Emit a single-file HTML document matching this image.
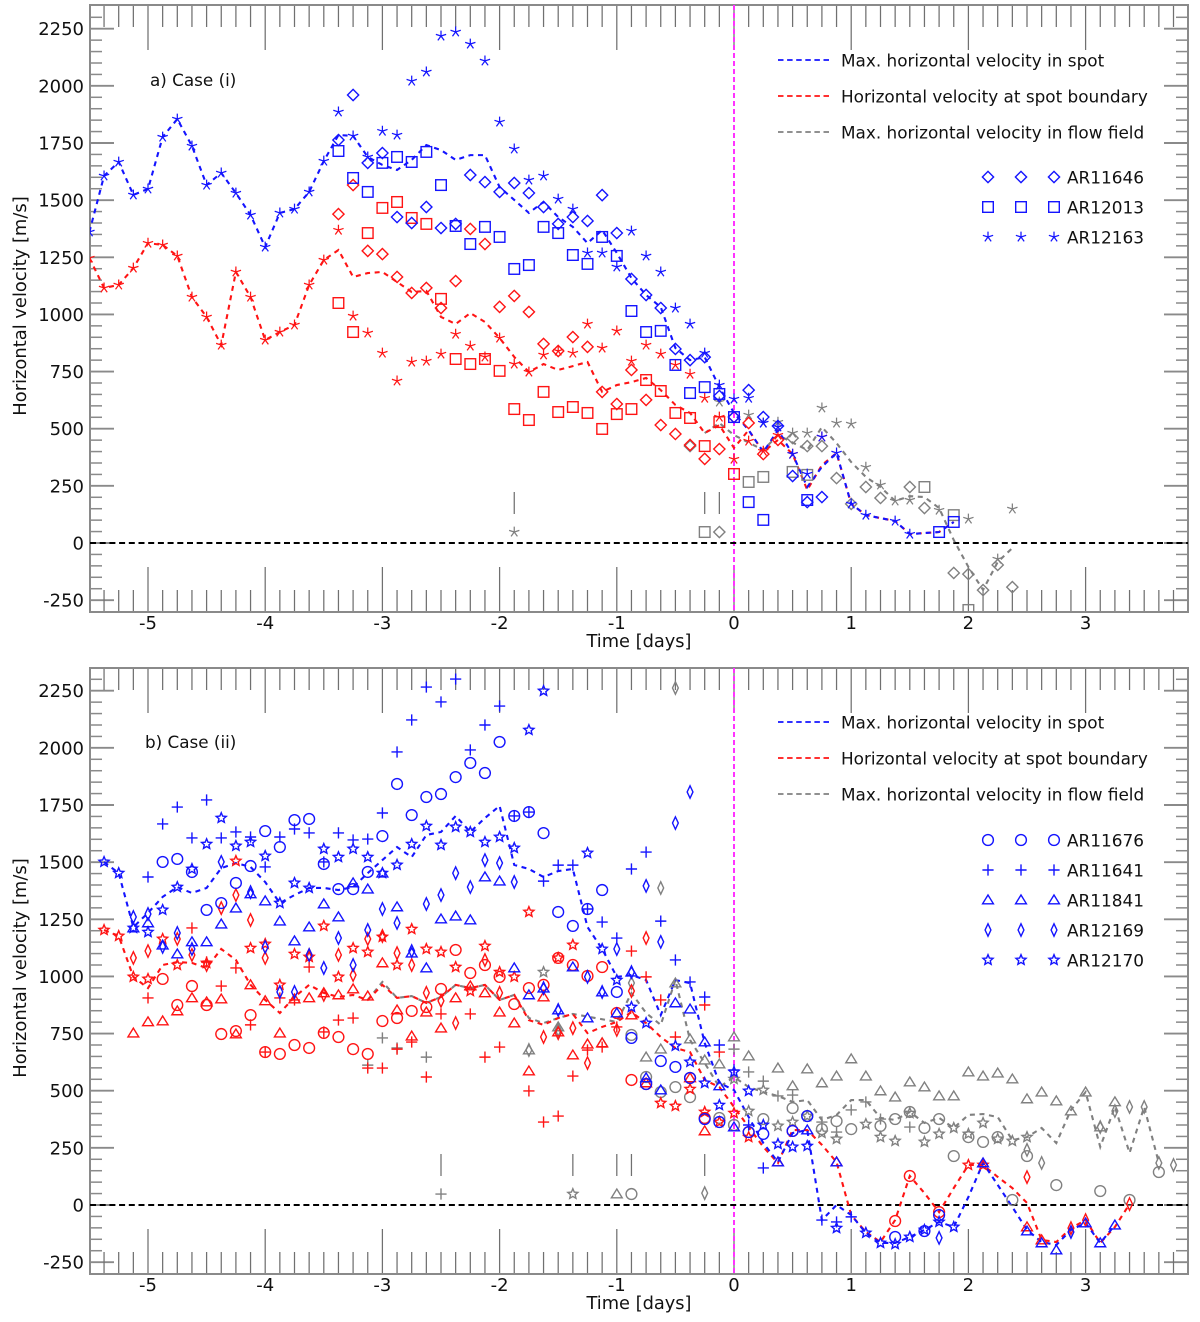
<!DOCTYPE html>
<html lang="en">
<head>
<meta charset="utf-8">
<title>Horizontal velocity vs time</title>
<style>
html,body{margin:0;padding:0;background:#fff;}
svg{display:block;}
text{font-family:"DejaVu Sans","Liberation Sans",sans-serif;fill:#111;}
</style>
</head>
<body>
<svg id="chart" xmlns="http://www.w3.org/2000/svg" width="1200" height="1322" viewBox="0 0 1200 1322"></svg>
<script>
/* ---------- shared categories / ticks ---------- */
const stepDays = 0.125;
const xTickDays = [-5,-4,-3,-2,-1,0,1,2,3];
const yTickSpeeds = [-250,0,250,500,750,1000,1250,1500,1750,2000,2250];
const legendLineLabels = ["Max. horizontal velocity in spot","Horizontal velocity at spot boundary","Max. horizontal velocity in flow field"];
const legendRegionsA = ["AR11646","AR12013","AR12163"];
const legendRegionsB = ["AR11676","AR11641","AR11841","AR12169","AR12170"];
const errorBarDaysA = [-1.875,-0.25,-0.125];
const errorBarDaysB = [-2.5,-1.375,-1,-0.875,-0.25];

/* ---------- panel a: lines (steps are eighths of a day, values m/s) ---------- */
const aBlueLineSteps = [-44,-43,-42,-41,-40,-39,-38,-37,-36,-35,-34,-33,-32,-31,-30,-29,-28,-27,-26,-25,-24,-23,-22,-21,-20,-19,-18,-17,-16,-15,-14,-13,-12,-11,-10,-9,-8,-7,-6,-5,-4,-3,-2,-1,0,1,2,3,4,5,6,7,8,9,11,12,14,15];
const aBlueLineVals = [1361,1606,1667,1523,1549,1776,1855,1737,1566,1619,1531,1435,1295,1444,1461,1536,1671,1785,1781,1689,1654,1632,1676,1741,1719,1676,1697,1697,1557,1501,1444,1492,1426,1383,1312,1369,1269,1159,1085,1032,853,800,813,682,569,494,398,494,389,245,333,394,171,122,96,39,48,92];
const aRedLineSteps = [-44,-43,-42,-41,-40,-39,-38,-37,-36,-35,-34,-33,-32,-31,-30,-29,-28,-27,-26,-25,-24,-23,-22,-21,-20,-19,-18,-17,-16,-15,-14,-13,-12,-11,-10,-9,-8,-7,-6,-5,-4,-3,-2,-1,0,1,2,3,4,5,6,7,8,9,11,12,14,15];
const aRedLineVals = [1247,1116,1129,1203,1312,1304,1256,1076,989,866,1186,1076,888,923,954,1129,1238,1282,1164,1181,1186,1142,1098,1103,989,958,1006,967,897,814,748,783,757,774,792,661,691,704,722,669,604,569,481,516,416,494,398,451,389,232,341,394,171,122,96,39,48,92];
const aGrayLineSteps = [-2,-1,0,2,3,5,6,7,8,9,10,11,12,13,14,15,16,17,18,19];
const aGrayLineVals = [481,525,472,407,472,407,507,437,354,289,245,184,205,201,153,13,-105,-205,-83,-22];

/* ---------- panel a: markers ---------- */
const aBlueDiamondSteps = [-27,-26,-25,-24,-23,-22,-21,-20,-19,-18,-17,-16,-15,-14,-13,-12,-11,-10,-9,-8,-7,-6,-5,-4,-3,-2,-1,0,1,2,3,4,5,6];
const aBlueDiamondVals = [1763,1960,1663,1706,1426,1400,1470,1378,1396,1610,1579,1536,1575,1531,1470,1396,1426,1409,1522,1356,1155,1085,1028,849,800,813,643,551,669,551,512,293,179,201];
const aGrayDiamondSteps = [-3,-1,4,5,6,7,8,9,10,12,13,15,16,17,18,19];
const aGrayDiamondVals = [424,48,459,424,424,284,171,245,197,245,153,-131,-136,-206,-96,-193];
const aRedDiamondSteps = [-27,-26,-25,-24,-23,-22,-21,-20,-19,-18,-17,-16,-15,-14,-13,-12,-11,-10,-9,-8,-7,-6,-5,-4,-3,-2,-1,0,1,2,3];
const aRedDiamondVals = [1439,1566,1278,1264,1164,1094,1116,1028,1146,1374,1308,1033,1081,1011,871,840,901,858,661,608,757,626,516,477,429,368,411,551,525,389,451];
const aBlueSquareSteps = [-27,-26,-25,-24,-23,-22,-21,-20,-19,-18,-17,-16,-15,-14,-13,-12,-11,-10,-9,-8,-7,-6,-5,-4,-3,-2,-1,0,1,2,5,14,15];
const aBlueSquareVals = [1715,1597,1536,1663,1689,1667,1711,1566,1387,1308,1383,1339,1199,1216,1383,1356,1260,1221,1339,1256,1015,923,928,779,656,682,652,551,179,101,188,48,92];
const aGraySquareSteps = [-2,1,2,4,5,13,15,16];
const aGraySquareVals = [48,267,289,311,298,245,122,-293];
const aRedSquareSteps = [-27,-26,-25,-24,-23,-22,-21,-20,-19,-18,-17,-16,-15,-14,-13,-12,-11,-10,-9,-8,-7,-6,-5,-4,-3,-2,-1,0];
const aRedSquareVals = [1050,923,1356,1466,1492,1422,1396,1068,805,783,805,753,586,538,661,573,595,569,499,564,586,713,665,569,547,424,529,302];
const aBlueStarSteps = [-44,-43,-42,-41,-40,-39,-38,-37,-36,-35,-34,-33,-32,-31,-30,-29,-28,-27,-26,-25,-24,-23,-22,-21,-20,-19,-18,-17,-16,-15,-14,-13,-12,-11,-10,-9,-8,-7,-6,-5,-4,-3,-2,-1,0,1,2,3,4,5,6,7,8,9,11,12];
const aBlueStarVals = [1361,1606,1667,1523,1549,1776,1855,1737,1566,1619,1531,1435,1295,1444,1461,1536,1671,1886,1781,1689,1802,1785,2021,2061,2218,2236,2183,2109,1842,1724,1588,1606,1505,1461,1269,1269,1208,1365,1256,1186,1028,958,831,691,630,634,525,508,389,302,464,394,171,122,96,39];
const aRedStarSteps = [-44,-43,-42,-41,-40,-39,-38,-37,-36,-35,-34,-33,-32,-31,-30,-29,-28,-27,-26,-25,-24,-23,-22,-21,-20,-19,-18,-17,-16,-15,-14,-13,-12,-11,-10,-9,-8,-7,-6,-5,-4,-3,-2,-1,0,1,2,3,4,6];
const aRedStarVals = [1247,1116,1129,1203,1312,1304,1256,1076,989,866,1186,1076,888,923,954,1129,1238,1369,993,919,831,709,792,796,827,914,862,814,897,783,748,823,840,831,958,853,928,796,866,827,779,739,634,551,367,446,402,472,389,464];
const aGrayStarSteps = [-15,-1,1,2,3,4,5,6,7,8,9,10,11,12,14,16,18,19];
const aGrayStarVals = [48,617,560,525,529,481,481,591,525,521,332,254,184,188,144,105,-70,149];

/* ---------- panel b: lines ---------- */
const bBlueLineSteps = [-43,-42,-41,-40,-39,-38,-37,-36,-35,-34,-33,-32,-31,-30,-29,-28,-27,-26,-25,-24,-23,-22,-21,-20,-19,-18,-17,-16,-15,-14,-13,-12,-11,-10,-9,-8,-7,-6,-5,-4,-3,-2,-1,0,1,2,3,4,5,6,7,8,9,10,11,12,13,14,15,16,17,18,19,20,21,22,23,24,25,26];
const bBlueLineVals = [1501,1452,1216,1278,1348,1391,1365,1387,1474,1496,1479,1413,1321,1356,1387,1387,1378,1391,1452,1509,1566,1522,1619,1632,1702,1632,1693,1746,1488,1470,1435,1461,1470,1216,1120,998,1006,984,831,984,971,709,534,503,385,271,188,315,328,-66,0,-44,-122,-166,-166,-140,-109,-74,-96,35,184,88,-9,-109,-162,-175,-109,-79,-166,-88];
const bRedLineSteps = [-43,-42,-41,-40,-39,-38,-37,-36,-35,-34,-33,-32,-31,-30,-29,-28,-27,-26,-25,-24,-23,-22,-21,-20,-19,-18,-17,-16,-15,-14,-13,-12,-11,-10,-9,-8,-7,-6,-5,-4,-3,-2,-1,0,1,2,3,4,5,6,7,8,9,10,11,12,13,14,15,16,17,18,19,20,21,22,23,24,25,26,27];
const bRedLineVals = [1203,1177,998,949,1050,1063,1059,1037,1120,1072,963,897,840,910,963,928,910,919,897,963,906,914,884,910,963,949,963,897,919,809,788,818,836,752,779,801,844,796,735,687,669,547,516,429,341,254,184,328,328,263,188,-44,-118,-162,-66,127,52,-31,74,175,175,123,74,9,-153,-162,-101,-66,-166,-96,4];
const bGrayLineSteps = [-25,-24,-23,-22,-21,-20,-19,-18,-17,-16,-15,-14,-13,-12,-11,-8,-7,-6,-5,-4,-3,-2,-1,0,1,2,3,4,5,6,7,8,9,10,11,12,13,14,15,16,17,18,19,20,21,22,23,24,25,26,27,28,29];
const bGrayLineVals = [897,976,906,914,884,910,963,949,963,897,919,818,796,818,836,801,927,840,788,984,722,621,516,560,516,494,477,451,459,372,394,459,459,381,372,407,359,381,337,394,398,385,284,297,337,271,416,494,254,429,228,429,184];

/* ---------- panel b: markers ---------- */
const bBlueStarSteps = [-43,-42,-41,-40,-39,-38,-37,-36,-35,-34,-33,-32,-31,-30,-29,-28,-27,-26,-25,-24,-23,-22,-21,-20,-19,-18,-17,-16,-15,-14,-13,-10,-9,-8,-7,-6,-4,-3,-2,-1,0,1,2,3,4,5,7,9,10,11,12,13,14,15];
const bBlueStarVals = [1501,1452,1212,1194,1291,1391,1470,1579,1693,1571,1588,1527,1321,1409,1387,1558,1522,1558,1522,1452,1488,1579,1658,1575,1654,1632,1588,1610,1562,2078,2249,1540,1120,984,866,796,696,626,534,437,582,499,350,267,254,258,-101,-122,-166,-171,-140,-109,-74,-96];
const bBluePlusSteps = [-40,-39,-38,-37,-36,-35,-34,-33,-32,-31,-30,-29,-28,-27,-26,-25,-24,-23,-22,-21,-20,-19,-18,-17,-16,-15,-14,-13,-12,-11,-10,-9,-8,-7,-6,-5,-4,-3,-2,-1,0,1,2,6,7,8];
const bBluePlusVals = [1435,1667,1741,1606,1772,1606,1632,1610,1479,1610,1645,1628,1501,1628,1597,1601,1715,1982,2122,2266,2201,2301,1991,2100,2183,1702,1719,1417,1487,1487,1295,1238,1168,1470,1544,1242,1072,976,910,700,591,350,162,-66,-74,-52];
const bBlueCircleSteps = [-39,-38,-37,-36,-35,-34,-33,-32,-31,-30,-29,-28,-27,-26,-25,-24,-23,-22,-21,-20,-19,-18,-17,-16,-15,-14,-13,-12,-11,-10,-9,-8,-7,-6,-5,-4,-3,-2,-1,1,2,4,5,11,13,14];
const bBlueCircleVals = [1501,1514,1457,1291,1321,1409,1483,1636,1566,1684,1689,1492,1382,1382,1457,1614,1842,1706,1785,1798,1872,1934,1890,2026,1702,1719,1627,1282,1221,1295,1378,932,731,529,630,604,556,376,363,319,311,324,389,-140,-114,-44];
const bBlueTriangleSteps = [-41,-40,-39,-38,-37,-36,-35,-34,-33,-32,-31,-30,-29,-28,-27,-26,-25,-24,-23,-22,-21,-20,-19,-18,-17,-16,-15,-14,-13,-12,-11,-10,-9,-8,-7,-6,-5,-4,-3,-2,-1,0,3,5,7,17,20,21,22,24,25,26];
const bBlueTriangleVals = [1212,1234,1137,1098,1151,1151,1229,1299,1361,1330,1242,1155,1216,1317,1260,1409,1382,1452,1304,1102,1037,1251,1264,1247,1435,1417,1037,919,949,853,1041,818,932,840,1019,556,503,884,857,713,521,341,188,328,188,184,-114,-166,-197,-79,-166,-88];
const bBlueDiamondSteps = [-41,-40,-39,-38,-37,-35,-33,-32,-31,-30,-29,-28,-27,-26,-25,-24,-23,-22,-21,-20,-19,-18,-17,-16,-15,-13,-12,-10,-9,-8,-7,-6,-5,-4,-3,14,23];
const bBlueDiamondVals = [1260,1273,1129,1190,1120,1501,1369,1129,932,932,1094,1037,1168,1050,1203,1295,1234,1111,1317,1356,1452,1391,1509,1496,1413,949,853,998,932,1120,1019,1396,1151,1671,1807,-144,-118];

const bRedStarSteps = [-43,-42,-41,-40,-39,-38,-36,-34,-33,-32,-31,-30,-29,-28,-27,-26,-25,-24,-23,-22,-21,-20,-19,-18,-17,-16,-15,-14,-12,-11,-5,-4,-3,-2,-1,0,1,16,17];
const bRedStarVals = [1203,1177,998,989,1164,1050,1059,1505,1124,1142,963,1098,1085,1221,998,1124,1107,1173,1050,1207,1120,1107,1041,936,1133,1019,998,1282,1081,1138,446,433,507,407,363,402,297,175,175];
const bRedPlusSteps = [-40,-37,-36,-35,-34,-33,-32,-31,-30,-29,-28,-27,-26,-25,-24,-23,-22,-21,-20,-18,-17,-16,-14,-13,-12,-11,-10,-9,-8,-7,-6,-5,-4,-2,-1];
const bRedPlusVals = [906,1212,1063,958,1037,788,669,906,897,1041,757,809,818,599,599,682,713,560,836,836,647,691,499,363,389,564,678,691,779,1111,998,897,735,875,669];
const bRedCircleSteps = [-39,-38,-37,-36,-35,-34,-33,-32,-31,-30,-29,-28,-27,-26,-25,-24,-23,-22,-21,-20,-19,-18,-17,-16,-15,-14,-13,-12,-11,-10,-9,-8,-7,-6,-3,-2,1,4,11,12,14];
const bRedCircleVals = [989,875,958,875,748,761,831,669,661,700,687,753,735,682,661,805,818,849,866,945,1116,1015,1050,998,879,949,963,1081,1050,1002,1041,840,547,529,556,381,319,324,-70,127,-31];
const bRedTriangleSteps = [-41,-40,-39,-38,-37,-36,-35,-34,-33,-32,-31,-30,-29,-28,-27,-26,-25,-24,-23,-22,-21,-20,-19,-18,-17,-16,-15,-14,-13,-12,-11,-10,-9,-7,-6,-3,-2,3,7,20,21];
const bRedTriangleVals = [752,801,805,849,906,888,901,748,963,893,752,901,906,928,919,945,914,1059,853,739,844,774,906,958,928,844,796,586,910,757,656,704,709,831,534,556,324,188,188,-96,-153];
const bRedDiamondSteps = [-41,-40,-38,-37,-36,-35,-34,-33,-32,-29,-28,-27,-26,-25,-24,-23,-22,-21,-20,-19,-17,-16,-13,-12,-11,-10,-8,-7,-6,20,23,24,27];
const bRedDiamondVals = [1081,1111,1164,1094,1050,1299,1356,1247,1081,1094,919,1094,1006,1164,1177,1102,1050,928,893,796,1072,928,735,752,774,621,766,936,1168,122,-101,-66,4];

const bGrayDiamondSteps = [-14,-12,-7,-5,-4,-2,20,21,25,26,27,28,29,30];
const bGrayDiamondVals = [678,766,971,1387,2262,52,241,184,341,411,429,429,184,175];
const bGrayTriangleSteps = [-14,-12,-9,-8,-6,-5,-4,-3,-2,-1,0,1,3,4,5,6,7,8,9,10,11,12,13,14,15,16,17,18,19,20,21,22,23,24,25,26];
const bGrayTriangleVals = [678,779,709,48,647,682,971,726,634,617,735,652,599,521,595,534,564,639,564,499,472,538,516,477,477,582,564,577,551,464,494,455,411,494,341,451];
const bGrayCircleSteps = [-7,-7,-6,-5,-4,-3,-1,0,2,4,5,6,7,8,10,11,12,13,14,15,16,17,18,19,20,22,25,27,29];
const bGrayCircleVals = [744,48,560,494,516,472,381,350,376,424,389,332,367,332,346,376,407,337,376,214,297,276,297,22,214,87,61,22,144];
const bGrayPlusSteps = [-25,-24,-23,-21,-20,0,1,2,3,4,6,7,8,9,10,12];
const bGrayPlusVals = [612,731,687,647,48,682,582,542,477,481,363,319,416,451,376,341];
const bGrayStarSteps = [-13,-11,0,1,2,3,4,5,6,7,9,10,11,12,13,14,15,16,17,18,19,20];
const bGrayStarVals = [1019,48,551,411,503,346,363,389,315,289,354,297,280,402,276,311,337,311,359,289,280,297];

/* ---------- rendering ---------- */
const NS = "http://www.w3.org/2000/svg";
const svg = document.getElementById("chart");
const BLUE = "#1414ff", RED = "#ff1414", GRAY = "#808080";
const AXIS = "#8a8a8a", TICK = "#707070";
const PX_PER_DAY = 117.2, PX_PER_SPEED = 0.22857, ZERO_X = 734;
const LEFT = 90, RIGHT = 1188;

function make(tag, parent, props) {
  const el = document.createElementNS(NS, tag);
  for (const k in props) el.setAttribute(k, props[k]);
  parent.appendChild(el);
  return el;
}
function group(parent, name) {
  const g = document.createElementNS(NS, "g");
  
  
  parent.appendChild(g);
  return g;
}
function xOf(days) { return ZERO_X + days * PX_PER_DAY; }

function drawMarker(parent, shape, cx, cy, color) {
  const base = {fill: "none", stroke: color, "stroke-width": 1.4};
  const P = pts => pts.map(p => (cx + p[0]).toFixed(2) + "," + (cy + p[1]).toFixed(2)).join(" ");
  if (shape === "diamond") return make("polygon", parent, Object.assign({points: P([[0,-5.6],[5.6,0],[0,5.6],[-5.6,0]])}, base));
  if (shape === "thin-diamond") return make("polygon", parent, Object.assign({points: P([[0,-6.2],[2.9,0],[0,6.2],[-2.9,0]])}, base));
  if (shape === "square") return make("rect", parent, Object.assign({x: cx - 5.3, y: cy - 5.3, width: 10.6, height: 10.6}, base));
  if (shape === "circle") return make("circle", parent, Object.assign({cx: cx, cy: cy, r: 5.4}, base));
  if (shape === "triangle") return make("polygon", parent, Object.assign({points: P([[0,-5],[5.4,3.8],[-5.4,3.8]])}, base));
  if (shape === "plus") return make("path", parent, Object.assign({d: "M" + (cx - 5.6) + " " + cy + "H" + (cx + 5.6) + "M" + cx + " " + (cy - 5.6) + "V" + (cy + 5.6)}, base));
  if (shape === "asterisk") {
    let d = "";
    for (let i = 0; i < 5; i++) {
      const a = -Math.PI / 2 + i * 2 * Math.PI / 5;
      d += "M" + cx + " " + cy + "L" + (cx + 5.4 * Math.cos(a)).toFixed(2) + " " + (cy + 5.4 * Math.sin(a)).toFixed(2);
    }
    return make("path", parent, Object.assign({d: d}, base, {"stroke-width": 1.25}));
  }
  const pts = [];
  for (let i = 0; i < 10; i++) {
    const a = -Math.PI / 2 + i * Math.PI / 5, r = i % 2 ? 2.4 : 5.3;
    pts.push([r * Math.cos(a), r * Math.sin(a)]);
  }
  return make("polygon", parent, Object.assign({points: P(pts)}, base));
}

function drawPanel(cfg) {
  const yOf = v => cfg.zeroY - v * PX_PER_SPEED;
  const panel = group(svg, "panel-" + cfg.id);

  /* clip */
  const clip = make("clipPath", panel, {id: "clip-" + cfg.id});
  make("rect", clip, {x: LEFT, y: cfg.top, width: RIGHT - LEFT, height: cfg.bottom - cfg.top});

  /* y ticks, both sides */
  const yAxis = group(panel, "y-axis");
  for (let v = -300; v <= 2350; v += 50) {
    const major = yTickSpeeds.indexOf(v) >= 0;
    const len = major ? 24 : 12;
    const y = yOf(v);
    if (y < cfg.top + 2 || y > cfg.bottom - 2) continue;
    const lt = make("line", yAxis, {x1: LEFT, x2: LEFT + len, y1: y, y2: y, stroke: AXIS, "stroke-width": major ? 1.9 : 1.5});
    
    
    const rt = make("line", yAxis, {x1: RIGHT - len, x2: RIGHT, y1: y, y2: y, stroke: AXIS, "stroke-width": major ? 1.9 : 1.5});
    
    
  }
  yTickSpeeds.forEach(v => {
    const t = make("text", yAxis, {x: 84, y: yOf(v) + 6.5, "text-anchor": "end", "font-size": 18});
    
    
    t.textContent = String(v);
  });

  /* x ticks, both sides */
  const xAxis = group(panel, "x-axis");
  for (let s = -43; s <= 30; s++) {
    const major = xTickDays.indexOf(s * stepDays) >= 0;
    const len = major ? 45 : 22;
    const x = xOf(s * stepDays);
    const tt = make("line", xAxis, {x1: x, x2: x, y1: cfg.top, y2: cfg.top + len, stroke: TICK, "stroke-width": 1.25});
    
    
    const bt = make("line", xAxis, {x1: x, x2: x, y1: cfg.bottom - len, y2: cfg.bottom, stroke: TICK, "stroke-width": 1.25});
    
    
  }
  xTickDays.forEach(d => {
    const t = make("text", xAxis, {x: xOf(d), y: cfg.bottom + 17, "text-anchor": "middle", "font-size": 18});
    
    
    t.textContent = String(d);
  });

  /* frame */
  const frame = make("rect", panel, {x: LEFT, y: cfg.top, width: RIGHT - LEFT, height: cfg.bottom - cfg.top, fill: "none", stroke: AXIS, "stroke-width": 2});
  
  

  /* reference lines */
  const vline = make("line", panel, {x1: ZERO_X, x2: ZERO_X, y1: cfg.top, y2: cfg.bottom, stroke: "#ff33ff", "stroke-width": 2, "stroke-dasharray": "5 3"});
  
  
  const zline = make("line", panel, {x1: LEFT, x2: RIGHT, y1: yOf(0), y2: yOf(0), stroke: "#000", "stroke-width": 2, "stroke-dasharray": "6 3.7"});
  
  

  /* data */
  const plot = group(panel, "plot-area");
  plot.setAttribute("clip-path", "url(#clip-" + cfg.id + ")");

  cfg.errorBars.forEach(d => {
    const b = make("line", plot, {x1: xOf(d), x2: xOf(d), y1: yOf(0) - 51, y2: yOf(0) - 29, stroke: TICK, "stroke-width": 1.25});
    
    
  });

  cfg.lines.forEach(s => {
    const pts = s.steps.map((k, i) => xOf(k * stepDays).toFixed(2) + "," + yOf(s.vals[i]).toFixed(2)).join(" ");
    const l = make("polyline", plot, {points: pts, fill: "none", stroke: s.color, "stroke-width": 2.1, "stroke-dasharray": "5 4.6"});
    
    
  });

  cfg.markers.forEach(s => {
    const g = group(plot, s.name);
    s.steps.forEach((k, i) => {
      const m = drawMarker(g, s.shape, xOf(k * stepDays), yOf(s.vals[i]), s.color);
      
      
    });
  });

  /* annotation */
  const title = make("text", panel, {x: cfg.titleX, y: cfg.anchorY + 81, "font-size": 16.8});
  
  
  title.textContent = cfg.title;

  const xt = make("text", panel, {x: 639, y: cfg.bottom + 35, "text-anchor": "middle", "font-size": 17.8});
  
  
  xt.textContent = "Time [days]";

  const ymid = cfg.zeroY - 237;
  const yt = make("text", panel, {x: 26, y: ymid, "text-anchor": "middle", "font-size": 17.9, transform: "rotate(-90 26 " + ymid + ")"});
  
  
  yt.textContent = "Horizontal velocity [m/s]";

  /* legend */
  const legend = group(panel, "legend");
  const lineColors = [BLUE, RED, GRAY];
  legendLineLabels.forEach((label, i) => {
    const y = cfg.anchorY + 55 + i * 36;
    const sw = make("line", legend, {x1: 778, x2: 829, y1: y, y2: y, stroke: lineColors[i], "stroke-width": 1.7, "stroke-dasharray": "5.5 3.6"});
    
    
    const t = make("text", legend, {x: 841, y: y + 6.3, "font-size": 16.85});
    
    
    t.textContent = label;
  });
  cfg.legendRegions.forEach((label, i) => {
    const y = cfg.regionY + i * 30;
    [988, 1021, 1054].forEach(x => {
      const m = drawMarker(legend, cfg.legendShapes[i], x, y, BLUE);
      
      
    });
    const t = make("text", legend, {x: 1067, y: y + 6.3, "font-size": 16.9});
    
    
    t.textContent = label;
  });
}

drawPanel({
  id: "a", title: "a) Case (i)", titleX: 150, top: 5, anchorY: 5, regionY: 177, bottom: 612, zeroY: 543,
  errorBars: errorBarDaysA,
  legendRegions: legendRegionsA, legendShapes: ["diamond", "square", "asterisk"],
  lines: [
    {name: "flow-field-line-a", color: GRAY, steps: aGrayLineSteps, vals: aGrayLineVals},
    {name: "spot-boundary-line-a", color: RED, steps: aRedLineSteps, vals: aRedLineVals},
    {name: "spot-max-line-a", color: BLUE, steps: aBlueLineSteps, vals: aBlueLineVals}
  ],
  markers: [
    {name: "ar11646-flow", shape: "diamond", color: GRAY, steps: aGrayDiamondSteps, vals: aGrayDiamondVals},
    {name: "ar12013-flow", shape: "square", color: GRAY, steps: aGraySquareSteps, vals: aGraySquareVals},
    {name: "ar12163-flow", shape: "asterisk", color: GRAY, steps: aGrayStarSteps, vals: aGrayStarVals},
    {name: "ar11646-boundary", shape: "diamond", color: RED, steps: aRedDiamondSteps, vals: aRedDiamondVals},
    {name: "ar12013-boundary", shape: "square", color: RED, steps: aRedSquareSteps, vals: aRedSquareVals},
    {name: "ar12163-boundary", shape: "asterisk", color: RED, steps: aRedStarSteps, vals: aRedStarVals},
    {name: "ar11646-spot", shape: "diamond", color: BLUE, steps: aBlueDiamondSteps, vals: aBlueDiamondVals},
    {name: "ar12013-spot", shape: "square", color: BLUE, steps: aBlueSquareSteps, vals: aBlueSquareVals},
    {name: "ar12163-spot", shape: "asterisk", color: BLUE, steps: aBlueStarSteps, vals: aBlueStarVals}
  ]
});

drawPanel({
  id: "b", title: "b) Case (ii)", titleX: 145, top: 668, anchorY: 667, regionY: 840, bottom: 1274, zeroY: 1205,
  errorBars: errorBarDaysB,
  legendRegions: legendRegionsB, legendShapes: ["circle", "plus", "triangle", "thin-diamond", "star"],
  lines: [
    {name: "flow-field-line-b", color: GRAY, steps: bGrayLineSteps, vals: bGrayLineVals},
    {name: "spot-boundary-line-b", color: RED, steps: bRedLineSteps, vals: bRedLineVals},
    {name: "spot-max-line-b", color: BLUE, steps: bBlueLineSteps, vals: bBlueLineVals}
  ],
  markers: [
    {name: "ar11676-flow", shape: "circle", color: GRAY, steps: bGrayCircleSteps, vals: bGrayCircleVals},
    {name: "ar11641-flow", shape: "plus", color: GRAY, steps: bGrayPlusSteps, vals: bGrayPlusVals},
    {name: "ar11841-flow", shape: "triangle", color: GRAY, steps: bGrayTriangleSteps, vals: bGrayTriangleVals},
    {name: "ar12169-flow", shape: "thin-diamond", color: GRAY, steps: bGrayDiamondSteps, vals: bGrayDiamondVals},
    {name: "ar12170-flow", shape: "star", color: GRAY, steps: bGrayStarSteps, vals: bGrayStarVals},
    {name: "ar11676-boundary", shape: "circle", color: RED, steps: bRedCircleSteps, vals: bRedCircleVals},
    {name: "ar11641-boundary", shape: "plus", color: RED, steps: bRedPlusSteps, vals: bRedPlusVals},
    {name: "ar11841-boundary", shape: "triangle", color: RED, steps: bRedTriangleSteps, vals: bRedTriangleVals},
    {name: "ar12169-boundary", shape: "thin-diamond", color: RED, steps: bRedDiamondSteps, vals: bRedDiamondVals},
    {name: "ar12170-boundary", shape: "star", color: RED, steps: bRedStarSteps, vals: bRedStarVals},
    {name: "ar11676-spot", shape: "circle", color: BLUE, steps: bBlueCircleSteps, vals: bBlueCircleVals},
    {name: "ar11641-spot", shape: "plus", color: BLUE, steps: bBluePlusSteps, vals: bBluePlusVals},
    {name: "ar11841-spot", shape: "triangle", color: BLUE, steps: bBlueTriangleSteps, vals: bBlueTriangleVals},
    {name: "ar12169-spot", shape: "thin-diamond", color: BLUE, steps: bBlueDiamondSteps, vals: bBlueDiamondVals},
    {name: "ar12170-spot", shape: "star", color: BLUE, steps: bBlueStarSteps, vals: bBlueStarVals}
  ]
});
</script>
</body>
</html>
